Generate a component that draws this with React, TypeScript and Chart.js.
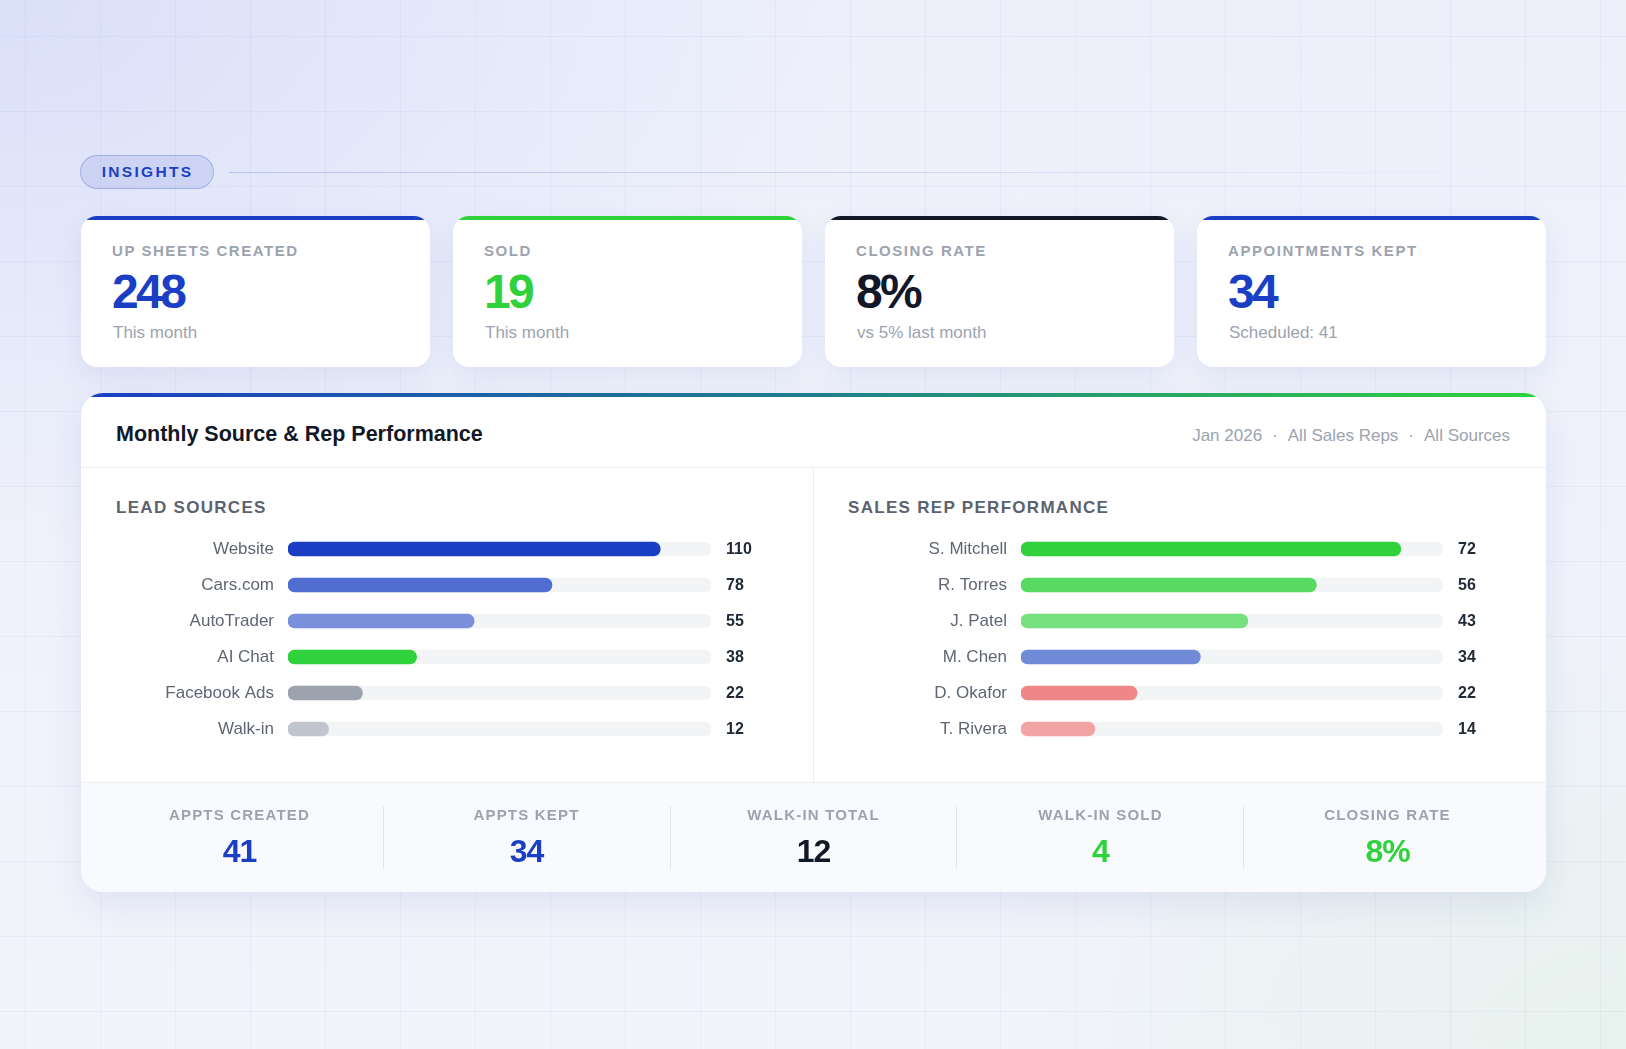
import React, { useEffect, useRef } from "react";
import { Chart, registerables } from "chart.js";

Chart.register(...registerables);

const FONT = "'Liberation Sans', Arial, Helvetica, sans-serif";
const BLUE = "#1a3fc4";
const GREEN = "#30d23b";
const DARK = "#111827";

// KPI cards
const kpiLabels = ["UP SHEETS CREATED", "SOLD", "CLOSING RATE", "APPOINTMENTS KEPT"];
const kpiValues = ["248", "19", "8%", "34"];
const kpiNotes = ["This month", "This month", "vs 5% last month", "Scheduled: 41"];
const kpiColors = [BLUE, GREEN, DARK, BLUE];

// Lead sources
const sourceLabels = ["Website", "Cars.com", "AutoTrader", "AI Chat", "Facebook Ads", "Walk-in"];
const sourceValues = [110, 78, 55, 38, 22, 12];
const sourceColors = ["#1a3fc4", "#506dd1", "#7b90db", "#30d23b", "#9ca3af", "#c1c5cd"];
const sourceMax = 125;

// Sales reps
const repLabels = ["S. Mitchell", "R. Torres", "J. Patel", "M. Chen", "D. Okafor", "T. Rivera"];
const repValues = [72, 56, 43, 34, 22, 14];
const repColors = ["#30d23b", "#58da62", "#76df7e", "#6f8ad7", "#ef8787", "#f2a4a4"];
const repMax = 80;

// Footer stats
const footLabels = ["APPTS CREATED", "APPTS KEPT", "WALK-IN TOTAL", "WALK-IN SOLD", "CLOSING RATE"];
const footValues = ["41", "34", "12", "4", "8%"];
const footColors = [BLUE, BLUE, DARK, GREEN, GREEN];

const headerMeta = ["Jan 2026", "All Sales Reps", "All Sources"];

const valuePlugin = {
  id: "valueLabels",
  afterDatasetsDraw(chart: any) {
    const { ctx, chartArea } = chart;
    const meta = chart.getDatasetMeta(0);
    const vals = chart.data.datasets[0].data;
    ctx.save();
    ctx.font = `bold 16px ${FONT}`;
    ctx.fillStyle = "#1f2937";
    ctx.textAlign = "left";
    ctx.textBaseline = "middle";
    meta.data.forEach((el: any, i: number) => {
      ctx.fillText(String(vals[i]), chartArea.right + 15, el.y + 1);
    });
    ctx.restore();
  },
};

function BarChart(props: {
  labels: string[];
  values: number[];
  colors: string[];
  max: number;
  width: number;
  height: number;
  axisWidth: number;
  padRight: number;
  style: React.CSSProperties;
}) {
  const ref = useRef<HTMLCanvasElement | null>(null);
  useEffect(() => {
    if (!ref.current) return;
    const chart = new Chart(ref.current, {
      type: "bar",
      data: {
        labels: props.labels,
        datasets: [
          {
            data: props.values,
            backgroundColor: props.colors,
            borderRadius: 7,
            borderSkipped: false,
            barThickness: 14,
            grouped: false,
            order: 0,
          } as any,
          {
            data: props.labels.map(() => props.max),
            backgroundColor: "#f3f4f6",
            borderRadius: 7,
            borderSkipped: false,
            barThickness: 14,
            grouped: false,
            order: 1,
          } as any,
        ],
      },
      options: {
        indexAxis: "y",
        responsive: false,
        maintainAspectRatio: false,
        animation: false,
        layout: { padding: { left: 0, right: props.padRight, top: 0, bottom: 0 } },
        plugins: { legend: { display: false }, tooltip: { enabled: false } },
        scales: {
          x: { display: false, min: 0, max: props.max },
          y: {
            grid: { display: false, drawTicks: false },
            border: { display: false },
            ticks: {
              padding: 14,
              color: "#5f6673",
              font: { family: FONT, size: 17 },
            },
            afterFit: (s: any) => {
              s.width = props.axisWidth;
              s.paddingTop = 0;
              s.paddingBottom = 0;
            },
          } as any,
        },
      } as any,
      plugins: [valuePlugin],
    });
    return () => chart.destroy();
  }, []);
  return (
    <canvas
      ref={ref}
      width={props.width}
      height={props.height}
      style={{ position: "absolute", width: props.width, height: props.height, ...props.style }}
    />
  );
}

export default function App() {
  const cardLefts = [81, 453, 825, 1197];
  const footDividers = [302, 589, 875, 1162];
  return (
    <div
      style={{
        position: "fixed",
        left: 0,
        top: 0,
        width: 1626,
        height: 1049,
        overflow: "hidden",
        fontFamily: FONT,
        backgroundColor: "#f1f3fb",
        backgroundImage: [
          "linear-gradient(to right, rgba(110,125,200,0.075) 1px, transparent 1px)",
          "linear-gradient(to bottom, rgba(110,125,200,0.075) 1px, transparent 1px)",
          "radial-gradient(ellipse 850px 560px at 0% 0%, rgba(215,221,248,0.85), rgba(215,221,248,0) 100%)",
          "radial-gradient(ellipse 650px 450px at 100% 100%, rgba(226,241,231,0.7), rgba(226,241,231,0) 100%)",
          "linear-gradient(180deg, #edf0fb 0%, #f2f4fb 100%)",
        ].join(","),
        backgroundSize: "75px 75px, 75px 75px, 100% 100%, 100% 100%, 100% 100%",
        backgroundPosition: "25px 36px, 25px 36px, 0 0, 0 0, 0 0",
      }}
    >
      {/* INSIGHTS pill */}
      <div
        style={{
          position: "absolute",
          left: 80,
          top: 155,
          width: 134,
          height: 34,
          boxSizing: "border-box",
          borderRadius: 17,
          background: "rgba(26,63,196,0.1)",
          border: "1.5px solid rgba(26,63,196,0.25)",
          display: "flex",
          alignItems: "center",
          justifyContent: "center",
          color: BLUE,
          fontWeight: 700,
          fontSize: 15.5,
          letterSpacing: 2.3,
          paddingLeft: 1,
        }}
      >
        INSIGHTS
      </div>
      <div
        style={{
          position: "absolute",
          left: 229,
          top: 172,
          width: 1317,
          height: 1,
          background: "linear-gradient(90deg, rgba(26,63,196,0.22), rgba(26,63,196,0.12) 60%, rgba(26,63,196,0))",
        }}
      />

      {/* KPI cards */}
      {kpiLabels.map((lab, i) => (
        <div
          key={lab}
          style={{
            position: "absolute",
            left: cardLefts[i],
            top: 216,
            width: 349,
            height: 151,
            borderRadius: 16,
            background: "#ffffff",
            overflow: "hidden",
            boxShadow: "0 10px 28px rgba(40,60,150,0.08)",
          }}
        >
          <div style={{ position: "absolute", left: 0, top: 0, width: "100%", height: 4, background: kpiColors[i] }} />
          <div
            style={{
              position: "absolute",
              left: 31,
              top: 26.5,
              fontSize: 15,
              lineHeight: "15px",
              fontWeight: 700,
              letterSpacing: 1.55,
              color: "#9ca3af",
              whiteSpace: "nowrap",
            }}
          >
            {lab}
          </div>
          <div
            style={{
              position: "absolute",
              left: 31,
              top: 52,
              fontSize: 48,
              lineHeight: "48px",
              fontWeight: 800,
              letterSpacing: -2.6,
              color: kpiColors[i],
              whiteSpace: "nowrap",
            }}
          >
            {kpiValues[i]}
          </div>
          <div
            style={{
              position: "absolute",
              left: 32,
              top: 107.5,
              fontSize: 17,
              lineHeight: "17px",
              color: "#9ca3af",
              whiteSpace: "nowrap",
            }}
          >
            {kpiNotes[i]}
          </div>
        </div>
      ))}

      {/* Main panel */}
      <div
        style={{
          position: "absolute",
          left: 81,
          top: 393,
          width: 1465,
          height: 499,
          borderRadius: 22,
          background: "#ffffff",
          overflow: "hidden",
          boxShadow: "0 14px 36px rgba(40,60,150,0.09)",
        }}
      >
        <div
          style={{
            position: "absolute",
            left: 0,
            top: 0,
            width: "100%",
            height: 4,
            background: `linear-gradient(90deg, ${BLUE}, #1f7f8c 50%, ${GREEN})`,
          }}
        />
        <div
          style={{
            position: "absolute",
            left: 35,
            top: 29.5,
            fontSize: 21.5,
            lineHeight: "22px",
            fontWeight: 700,
            color: DARK,
            whiteSpace: "nowrap",
          }}
        >
          Monthly Source &amp; Rep Performance
        </div>
        <div
          style={{
            position: "absolute",
            right: 36,
            top: 33.5,
            fontSize: 17,
            lineHeight: "17px",
            color: "#9ca3af",
            whiteSpace: "nowrap",
          }}
        >
          {headerMeta.map((t, i) => (
            <span key={t}>
              {i > 0 ? <span style={{ margin: "0 10px" }}>·</span> : null}
              {t}
            </span>
          ))}
        </div>
        <div style={{ position: "absolute", left: 0, top: 74, width: "100%", height: 1, background: "#eef0f5" }} />

        {/* column divider */}
        <div style={{ position: "absolute", left: 732, top: 75, width: 1, height: 314, background: "#eceef3" }} />

        <div
          style={{
            position: "absolute",
            left: 35,
            top: 106,
            fontSize: 17,
            lineHeight: "17px",
            fontWeight: 700,
            letterSpacing: 1.3,
            color: "#5b6270",
            whiteSpace: "nowrap",
          }}
        >
          LEAD SOURCES
        </div>
        <div
          style={{
            position: "absolute",
            left: 767,
            top: 106,
            fontSize: 17,
            lineHeight: "17px",
            fontWeight: 700,
            letterSpacing: 1.3,
            color: "#5b6270",
            whiteSpace: "nowrap",
          }}
        >
          SALES REP PERFORMANCE
        </div>

        <BarChart
          labels={sourceLabels}
          values={sourceValues}
          colors={sourceColors}
          max={sourceMax}
          width={664}
          height={216}
          axisWidth={172}
          padRight={69}
          style={{ left: 35, top: 138 }}
        />
        <BarChart
          labels={repLabels}
          values={repValues}
          colors={repColors}
          max={repMax}
          width={662}
          height={216}
          axisWidth={173}
          padRight={67}
          style={{ left: 767, top: 138 }}
        />

        {/* footer */}
        <div
          style={{
            position: "absolute",
            left: 0,
            top: 389,
            width: "100%",
            height: 110,
            background: "#f9fafd",
            borderTop: "1px solid #eceef4",
          }}
        />
        {footDividers.map((x) => (
          <div key={x} style={{ position: "absolute", left: x, top: 413, width: 1, height: 63, background: "#e3e5ec" }} />
        ))}
        {footLabels.map((lab, i) => (
          <div
            key={lab + i}
            style={{ position: "absolute", left: 15 + i * 287, top: 0, width: 287, height: 499 }}
          >
            <div
              style={{
                position: "absolute",
                left: 0,
                width: "100%",
                top: 413.5,
                textAlign: "center",
                fontSize: 15,
                lineHeight: "15px",
                fontWeight: 700,
                letterSpacing: 1.2,
                color: "#9ca3af",
                whiteSpace: "nowrap",
              }}
            >
              {lab}
            </div>
            <div
              style={{
                position: "absolute",
                left: 0,
                width: "100%",
                top: 442,
                textAlign: "center",
                fontSize: 32,
                lineHeight: "32px",
                fontWeight: 700,
                letterSpacing: -1,
                color: footColors[i],
                whiteSpace: "nowrap",
              }}
            >
              {footValues[i]}
            </div>
          </div>
        ))}
      </div>
    </div>
  );
}
